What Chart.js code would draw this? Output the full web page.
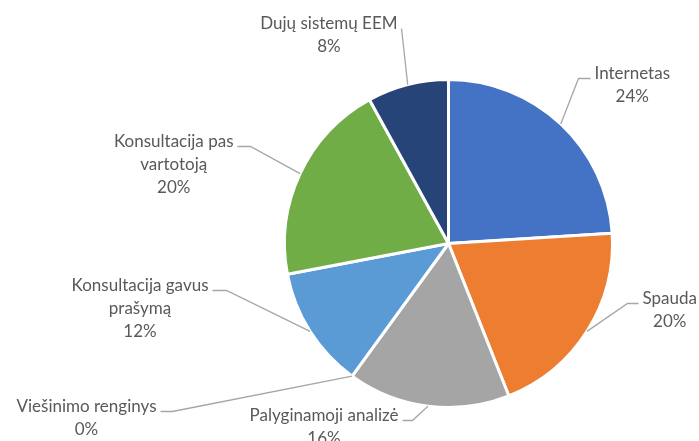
<!DOCTYPE html>
<html>
<head>
<meta charset="utf-8">
<script src="https://cdn.jsdelivr.net/npm/chart.js@4"></script>
<style>
  html, body { margin: 0; padding: 0; background: #fff; }
  canvas { display: block; }
</style>
</head>
<body>
<canvas id="myChart" width="699" height="441"></canvas>
<script>
const categories = [
    'Internetas',
    'Spauda',
    'Palyginamoji analizė',
    'Viešinimo renginys',
    'Konsultacija gavus prašymą',
    'Konsultacija pas vartotoją',
    'Dujų sistemų EEM'
];
const shares = [24, 20, 16, 0, 12, 20, 8];
const sliceColors = ['#4472C4', '#ED7D31', '#A5A5A5', '#FFC000', '#5B9BD5', '#70AD47', '#264478'];

// where each leader line meets its label, relative to the pie centre
const labelSpots = [
    { dx: 142, dy: -165, elbow: 12, side: 'R', wrap: 200 },
    { dx: 190, dy: 60, elbow: 11, side: 'R', wrap: 200 },
    { dx: -46, dy: 177, elbow: 10, side: 'L', wrap: 200 },
    { dx: -288, dy: 168, elbow: 12, side: 'L', wrap: 200 },
    { dx: -236, dy: 47, elbow: 14, side: 'L', wrap: 150 },
    { dx: -211, dy: -97, elbow: 13, side: 'L', wrap: 130 },
    { dx: -47, dy: -215, elbow: 0, side: 'L', wrap: 200 }
];

const FONT = '17px Lato, "Liberation Sans", sans-serif';

function wrapText(ctx, text, maxW) {
    const words = text.split(' ');
    const lines = [];
    let cur = '';
    words.forEach(w => {
        const test = cur ? cur + ' ' + w : w;
        if (cur && ctx.measureText(test).width > maxW) {
            lines.push(cur);
            cur = w;
        } else {
            cur = test;
        }
    });
    if (cur) lines.push(cur);
    return lines;
}

const leaderLabels = {
    id: 'leaderLabels',
    afterDatasetsDraw(chart) {
        const ctx = chart.ctx;
        const arcs = chart.getDatasetMeta(0).data;
        ctx.save();
        ctx.font = FONT;
        arcs.forEach((arc, i) => {
            const spot = labelSpots[i];
            const mid = (arc.startAngle + arc.endAngle) / 2;
            const ex = arc.x + Math.cos(mid) * arc.outerRadius;
            const ey = arc.y + Math.sin(mid) * arc.outerRadius;
            const ax = arc.x + spot.dx;
            const ay = arc.y + spot.dy;
            const bx = spot.side === 'R' ? ax - spot.elbow : ax + spot.elbow;

            ctx.strokeStyle = '#A6A6A6';
            ctx.lineWidth = 1.3;
            ctx.beginPath();
            ctx.moveTo(ex, ey);
            ctx.lineTo(bx, ay);
            ctx.lineTo(ax, ay);
            ctx.stroke();

            const lines = wrapText(ctx, categories[i], spot.wrap);
            lines.push(shares[i] + '%');
            const w = Math.max(...lines.map(l => ctx.measureText(l).width));
            const cx = spot.side === 'R' ? ax + 4 + w / 2 : ax - 4 - w / 2;
            ctx.fillStyle = '#595959';
            ctx.textAlign = 'center';
            ctx.textBaseline = 'middle';
            lines.forEach((l, k) => {
                ctx.fillText(l, cx, ay - 5 + k * 23);
            });
        });
        ctx.restore();
    }
};

new Chart(document.getElementById('myChart'), {
    type: 'pie',
    data: {
        labels: categories,
        datasets: [{
            data: shares,
            backgroundColor: sliceColors,
            borderColor: '#ffffff',
            borderWidth: 3
        }]
    },
    options: {
        responsive: false,
        animation: false,
        events: [],
        layout: {
            padding: { left: 283, right: 85, top: 78, bottom: 32 }
        },
        plugins: {
            legend: { display: false },
            tooltip: { enabled: false }
        }
    },
    plugins: [leaderLabels]
});
</script>
</body>
</html>
